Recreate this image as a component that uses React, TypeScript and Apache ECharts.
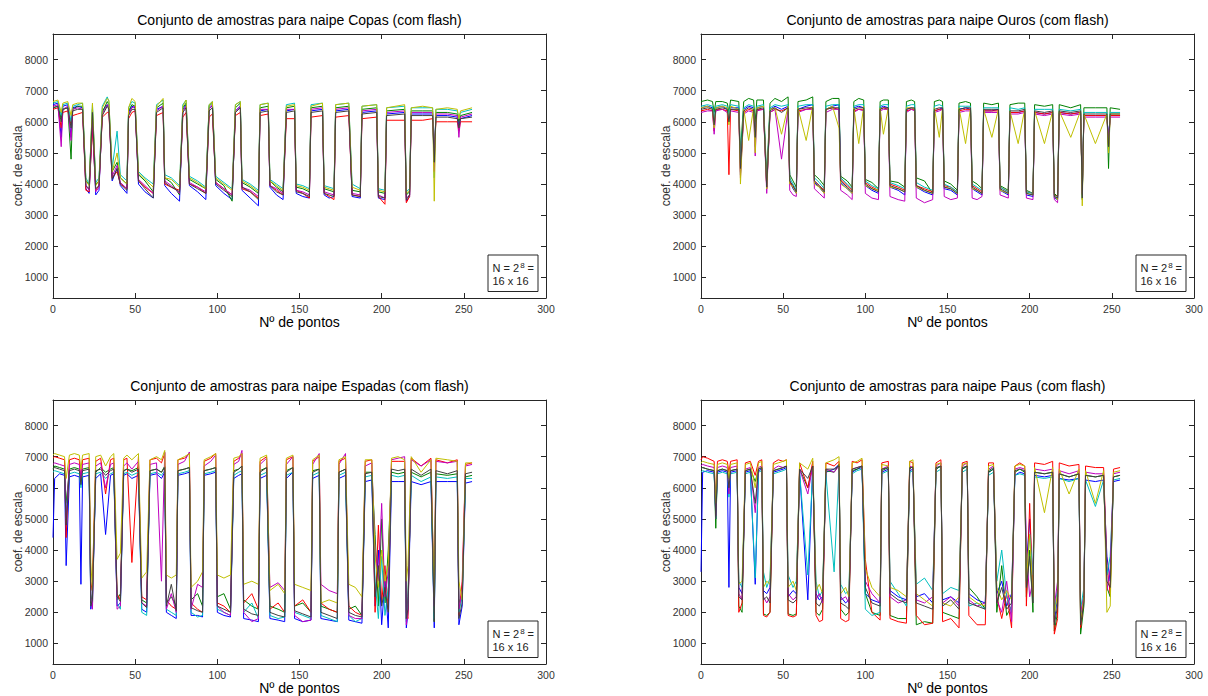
import React, { useEffect, useRef } from "react";
import * as echarts from "echarts";

// MATLAB default colour order: b, g, r, c, m, y, k
const COLORS = ["#0000ff", "#008000", "#ff0000", "#00bfbf", "#bf00bf", "#bfbf00", "#404040"];

const TITLES = [
  "Conjunto de amostras para naipe Copas (com flash)",
  "Conjunto de amostras para naipe Ouros (com flash)",
  "Conjunto de amostras para naipe Espadas (com flash)",
  "Conjunto de amostras para naipe Paus (com flash)",
];
const X_NAME = "Nº de pontos";
const Y_NAME = "coef. de escala";
const Y_TICKS = [1000, 2000, 3000, 4000, 5000, 6000, 7000, 8000];
const X_TICK_STEP = 50;

// ---------------- Copas ----------------
const X_COPAS = [0,3,5,6,9,11,12,15,18,20,22,24,26,28,30,33,34,36,39,41,45,46,48,50,52,56,61,63,67,68,72,77,79,81,83,88,93,95,97,99,104,109,111,114,115,120,125,126,131,132,136,140,142,147,148,152,156,157,164,165,168,171,172,180,182,187,188,197,198,202,203,214,215,217,218,225,231,232,233,240,246,247,248,255];
const COPAS_B = [6550,6600,5500,6500,6550,5500,6450,6500,6450,3850,3700,6000,3650,3800,6350,6550,6450,4100,4500,3950,3700,6300,6500,6450,4000,3750,3550,6400,6500,3950,3700,3450,6400,6550,3950,3750,3500,6450,6500,3950,3700,3500,6350,6500,3800,3550,3300,6350,6400,3900,3650,3500,6350,6400,3700,3600,3550,6350,6400,3650,3550,3600,6350,6400,3600,3550,6300,6350,3550,3500,6250,6300,3450,3600,6250,6250,6250,4800,6200,6200,6150,5900,6100,6200];
const COPAS_G = [6450,6500,6100,6400,6450,4800,6400,6500,6500,4100,4000,6400,4000,4100,6300,6650,6550,4400,4700,4200,4000,6350,6550,6500,4300,4100,3750,6450,6600,4200,4050,3650,6450,6600,4150,4000,3850,6500,6600,4150,3950,3450,6450,6600,4050,3900,3700,6450,6500,4100,3900,3750,6450,6500,3900,3850,3750,6450,6500,3850,3800,3750,6450,6500,3800,3750,6400,6450,3750,3700,6350,6400,3650,3750,6350,6350,6350,4600,6300,6300,6250,6000,6200,6300];
const COPAS_R = [6400,6450,5800,6300,6350,5900,6200,6250,6300,3800,3750,5800,3800,3950,6150,6300,6300,4200,4400,4000,3850,6100,6300,6350,4100,3900,3700,6200,6300,4000,3900,3800,6150,6300,4000,3900,3700,6150,6250,4050,3850,3650,6200,6300,3850,3750,3550,6200,6250,3950,3800,3650,6100,6100,3800,3700,3550,6150,6200,3700,3600,3500,6150,6200,3650,3600,6100,6150,3600,3350,6050,6050,3400,3600,6050,6050,6100,5000,6000,6000,6000,5700,6000,6000];
const COPAS_C = [6600,6650,6200,6550,6600,6000,6500,6550,6600,4200,4000,6550,4050,4200,6500,6800,6650,4500,5700,4300,4100,6450,6650,6600,4400,4200,4000,6550,6700,4300,4200,3950,6550,6700,4250,4100,3900,6550,6650,4250,4050,3850,6550,6650,4150,4000,3800,6550,6600,4150,4000,3850,6550,6600,4000,3950,3850,6550,6600,3950,3900,3850,6550,6600,4000,3850,6500,6550,3850,3800,6450,6500,3750,3850,6450,6450,6450,4200,6400,6400,6350,6100,6300,6400];
const COPAS_M = [6500,6550,5200,6400,6500,5400,6400,6450,6400,3950,3800,6100,3750,3900,6250,6550,6500,4250,4600,4050,3850,6250,6450,6500,4150,3950,3700,6350,6500,4100,3950,3700,6350,6500,4050,3900,3750,6400,6550,4050,3850,3650,6350,6500,3900,3800,3600,6400,6400,3950,3850,3700,6400,6400,3800,3750,3650,6400,6450,3750,3700,3650,6400,6450,3700,3650,6350,6400,3650,3550,6300,6350,3550,3650,6300,6300,6300,4400,6250,6250,6200,5500,6150,6250];
const COPAS_Y = [6650,6700,6300,6600,6650,6200,6550,6600,6600,4100,3950,6600,3950,4100,6450,6750,6700,4400,5000,4200,4000,6450,6750,6650,4350,4150,3900,6500,6750,4200,4150,3900,6500,6700,4200,4050,3850,6550,6650,4200,4000,3800,6550,6650,4100,3950,3750,6550,6600,4100,3950,3800,6500,6550,3950,3900,3800,6500,6600,3900,3850,3800,6550,6600,3900,3800,6500,6550,3800,3750,6450,6550,3700,3800,6450,6500,6450,3450,6400,6450,6400,6100,6350,6450];
const COPAS_K = [6450,6500,6000,6400,6450,5800,6350,6400,6400,3950,3850,6300,3850,3950,6200,6500,6400,4150,4500,4000,3800,6200,6400,6400,4100,3850,3550,6300,6450,4050,3900,3750,6300,6450,4000,3850,3700,6350,6450,4000,3800,3600,6300,6450,3900,3750,3500,6300,6350,3950,3750,3650,6300,6350,3750,3700,3600,6300,6350,3700,3650,3600,6300,6350,3650,3600,6250,6300,3600,3550,6200,6250,3500,3650,6200,6200,6200,4700,6150,6150,6100,5800,6100,6150];

// ---------------- Ouros ----------------
const X_OUROS = [0,4,7,8,9,13,16,17,18,23,24,26,29,32,33,34,38,40,42,45,49,53,54,56,58,59,64,68,69,72,75,76,80,84,85,89,92,93,96,99,100,104,108,109,111,114,115,120,124,125,128,130,131,136,141,142,145,147,148,152,156,157,161,164,165,168,171,172,177,181,182,187,188,193,197,198,202,203,209,214,215,217,218,225,231,232,233,240,247,248,249,255];
const OUROS_B = [6450,6500,6450,6000,6450,6500,6400,6100,6450,6450,4300,6400,6500,6450,5800,6450,6500,3900,6400,6500,6400,6500,4100,3850,3700,6400,6500,6550,4050,3900,3700,6400,6500,6550,4050,3850,3700,6450,6500,6450,3950,3800,3700,6450,6500,6450,3900,3800,3650,6400,6450,6400,3900,3750,3650,6350,6400,6450,3850,3800,3650,6400,6450,6400,3850,3750,3650,6350,6350,6400,3800,3650,6300,6300,6350,3650,3600,6300,6250,6300,3550,3500,6300,6250,6300,3700,6200,6200,6200,5400,6200,6200];
const OUROS_G = [6650,6700,6650,6300,6650,6650,6600,6300,6700,6650,5000,6650,6750,6700,6000,6700,6700,4200,6600,6750,6650,6800,4300,4100,3900,6650,6700,6800,4300,4150,3950,6650,6750,6750,4250,4100,3900,6650,6750,6700,4150,4050,3850,6650,6700,6700,4100,4050,3900,6650,6700,6650,4200,4100,3700,6650,6700,6650,4100,4000,3800,6600,6650,6600,4100,4000,3850,6600,6550,6600,3950,3800,6550,6600,6600,3800,3700,6550,6500,6550,3700,3600,6550,6450,6550,3500,6450,6450,6450,4500,6450,6400];
const OUROS_R = [6350,6400,6350,5700,6400,6400,6350,4300,6400,6350,4400,6300,6400,6350,5600,6400,6400,3850,6300,6400,6350,6450,4050,3900,3800,6350,6400,6450,4100,3950,3800,6400,6450,6400,4150,3950,3800,6350,6400,6400,4050,3900,3800,6400,6450,6400,4000,3900,3800,6350,6400,6400,3950,3850,3750,6350,6400,6400,3950,3900,3750,6350,6400,6400,3950,3850,3750,6350,6350,6350,3900,3750,6300,6300,6350,3750,3700,6300,6250,6300,3650,3600,6300,6250,6300,3650,6200,6200,6200,5200,6200,6200];
const OUROS_C = [6500,6550,6500,6100,6500,6550,6500,6200,6550,6500,4700,6450,6550,6500,5200,6500,6550,4000,6450,6550,6500,6550,4200,4000,3800,6500,6550,6550,4200,4050,3850,6500,6550,6550,4200,4000,3850,6500,6550,6550,4100,3950,3850,6500,6550,6550,4050,3950,3850,6500,6550,6550,4050,3900,3800,6500,6550,6500,4000,3900,3750,6500,6500,6500,4000,3900,3800,6450,6450,6450,3900,3750,6450,6400,6450,3750,3700,6400,6400,6400,3650,3550,6400,6350,6400,3600,6300,6300,6300,5300,6300,6300];
const OUROS_M = [6300,6350,6350,5600,6350,6400,6300,6000,6350,6300,4200,6250,6350,6300,4900,6350,6400,3700,6300,6400,4800,6400,3800,3650,3600,6300,6400,6400,3850,3700,3550,6300,6400,6400,3800,3650,3500,6300,6400,6350,3700,3550,3500,6350,6400,6400,3600,3500,3450,6300,6400,6350,3550,3400,3500,6300,6350,6400,3600,3500,3550,6300,6350,6350,3550,3500,3600,6300,6300,6300,3650,3550,6250,6250,6300,3550,3500,6250,6200,6250,3500,3400,6250,6200,6250,3700,6150,6150,6150,5500,6150,6150];
const OUROS_Y = [6450,6500,6400,5800,6450,6500,6450,5900,6500,6400,4000,6400,5400,6450,5000,6450,6500,3850,6400,6450,5600,6500,4000,3900,3700,6450,5400,6500,4000,3900,3700,6400,6500,5800,4000,3850,3700,6450,5300,6500,3950,3850,3800,6450,5600,6450,3900,3850,3750,6450,6450,6400,3900,3800,3700,6450,5500,6450,3900,3850,3700,6450,5300,6450,3850,3800,3700,6400,5500,6400,3800,3700,6350,5300,6400,3700,3650,6350,5300,6350,3600,3500,6350,5500,6350,3300,6250,5300,6250,5000,6250,6250];
const OUROS_K = [6400,6450,6400,5900,6400,6450,6400,6000,6400,6400,4500,6350,6450,6400,5500,6400,6450,3900,6350,6450,6300,6450,4100,3950,3750,6400,6450,6450,4100,3950,3750,6400,6450,6450,4100,3900,3750,6400,6450,6450,4000,3850,3750,6400,6450,6450,3950,3850,3750,6400,6450,6450,3950,3800,3700,6400,6450,6450,3900,3850,3700,6400,6450,6450,3900,3800,3700,6400,6400,6400,3850,3700,6350,6350,6400,3700,3650,6350,6300,6350,3600,3550,6350,6300,6350,3550,6250,6250,6250,5200,6250,6250];

// ---------------- Espadas ----------------
const X_ESPADAS = [0,1,4,7,8,10,13,16,17,18,22,23,24,26,29,32,35,37,39,41,43,45,48,52,54,57,59,63,66,68,69,72,75,76,80,83,84,88,91,92,96,99,100,104,108,110,113,115,116,121,125,126,130,132,137,141,142,146,147,152,157,158,162,163,168,173,174,178,180,184,188,190,194,196,198,200,202,204,206,210,214,215,216,218,224,230,232,233,240,246,247,249,251,255];
const ESPADAS_B = [4400,6300,6450,6400,3500,6350,6400,6350,2900,6350,6400,2100,2500,6300,6450,4500,6400,6450,2200,2300,6400,6450,6300,6400,2100,2000,6400,6450,6300,6500,2000,1900,1800,6400,6450,6500,1900,1900,1850,6400,6450,6500,2000,1900,1850,6300,6400,6450,1800,1750,1700,6300,6400,1800,1750,1700,6300,6500,1800,1700,1750,6300,6400,1800,1750,1700,6300,6400,1750,1700,1650,6200,6250,2200,4000,1600,3000,1500,6200,6200,6200,1500,2000,6200,6100,6200,1500,6200,6200,6200,1600,2200,6150,6200];
const ESPADAS_G = [6600,6700,6650,6600,5500,6600,6650,6600,6400,6600,6650,2300,2600,6500,6650,6500,6600,6650,2400,2600,6550,6600,6550,6650,2400,2300,6550,6600,6500,6700,2300,2500,2200,6550,6600,6650,2400,2600,2200,6550,6600,6650,2500,2600,2100,6550,6600,6700,2400,2200,2100,6550,6650,2200,2100,2000,6550,6650,2200,2300,2000,6550,6600,2200,2100,2000,6500,6600,2100,2200,1900,6500,6500,4500,2200,5000,2300,4000,6500,6450,6500,1800,2500,6500,6350,6500,1700,6450,6400,6450,2300,2600,6350,6400];
const ESPADAS_R = [6950,7000,6950,6900,4400,6900,6950,6900,6200,6900,6950,2700,3000,6850,6950,5800,6900,6950,2600,2400,6900,6950,3600,7000,2500,2400,6900,6950,6800,7100,2400,2200,2100,6900,6950,7100,2300,2100,2000,6850,6950,7100,2300,2200,2000,6850,6950,7100,2300,2600,2100,6850,7000,2100,2300,2000,6900,7000,2200,2400,2000,6850,7000,2300,2100,2000,6850,6950,2200,2000,1900,6850,6900,2000,4800,2300,3500,2100,6850,6850,6850,2000,1800,6950,6700,6950,2000,6900,6800,6900,1900,3000,6750,6800];
const ESPADAS_C = [6500,6550,6500,6450,5200,6450,6500,6450,6000,6450,6500,2400,2200,6450,6500,6300,6450,6500,2300,2100,6450,6500,6400,6500,2000,1900,6450,6500,6400,6550,2100,2000,1900,6450,6500,6550,2000,1850,1900,6450,6500,6550,2100,2000,1900,6400,6500,6550,2000,2300,1800,6400,6500,1900,1800,1850,6400,6500,2000,1900,1800,6400,6500,1900,1800,1700,6400,6500,1900,1700,1800,6350,6400,3000,1800,3800,1900,2800,6400,6350,6400,1700,2300,6400,6200,6350,1800,6350,6300,6350,2000,2500,6300,6300];
const ESPADAS_M = [6750,6800,6750,6700,5000,6750,6800,6750,6300,6750,6800,2500,2100,6700,6800,6000,6750,6800,2100,2200,6700,6800,6600,6850,2300,2200,6750,6800,3000,7150,2100,2600,2000,6750,6850,7150,2100,2900,2800,6700,6850,7050,2200,2000,1900,6750,6850,7200,2000,1700,1800,6750,6950,2800,2950,2700,6750,7000,1900,1700,1750,6750,7100,2900,2700,2600,6750,7100,1900,1800,1800,6700,6800,4000,3000,5500,2500,3300,6900,6950,7000,1600,2100,6900,6700,6900,2200,6850,6800,6850,2100,2700,6700,6750];
const ESPADAS_Y = [7050,7100,7050,7000,6300,7050,7100,7050,6600,7050,7100,3600,2700,7000,7050,6700,7000,7100,3700,3900,6950,7050,6900,7100,3100,3300,6900,7000,6900,7200,3200,3100,3200,6900,7000,7100,2800,3000,3300,6900,7000,7100,3200,3100,3200,6950,7000,7100,2900,3000,2900,6950,7050,2700,2900,2600,6950,7050,2900,2800,2700,6900,7050,2300,2400,2300,6900,7000,2900,2800,2500,6900,6900,3800,2800,4000,3000,3500,6950,7000,6900,3000,3500,7000,6500,6900,2500,6950,6900,6850,3000,2400,6800,6800];
const ESPADAS_K = [6600,6650,6600,6550,4800,6550,6600,6550,6100,6550,6600,2200,2400,6550,6600,6400,6550,6600,2500,2350,6550,6600,6500,6600,2300,2150,6550,6600,6500,6650,2200,2900,2050,6550,6600,6650,2150,2050,2000,6550,6600,6650,2200,2100,2000,6500,6600,6700,2100,1950,1900,6500,6650,2000,1900,1850,6500,6650,2050,1950,1850,6500,6600,2000,1900,1800,6500,6600,2000,1900,1850,6450,6500,2500,3500,2200,2800,2000,6600,6550,6600,1800,2100,6600,6400,6600,1700,6550,6450,6550,1800,2300,6450,6500];

// ---------------- Paus ----------------
const X_PAUS = [0,1,4,8,9,10,13,16,17,18,22,23,25,27,30,33,35,37,38,40,42,44,47,50,52,53,56,58,60,65,68,70,72,74,76,81,84,85,88,90,92,95,98,100,104,109,110,114,115,120,125,127,129,131,136,141,143,146,147,152,157,159,162,163,168,173,175,178,180,183,186,189,191,194,197,198,200,202,203,209,214,215,217,218,224,230,231,233,234,240,245,247,249,251,255];
const PAUS_B = [3300,6500,6550,6500,5200,6500,6550,6500,2800,6500,6550,2800,2600,6500,6550,2900,6550,6600,2700,2600,2800,6500,6550,6600,6650,2500,2700,2600,6500,2400,6700,2600,2400,2500,6500,6600,6750,2500,2300,2400,6500,6600,6650,2600,2400,2300,6500,6600,2700,2500,2400,6550,6600,2500,2600,2300,6600,6700,2400,2500,2300,6600,6700,2600,2400,2300,6500,6600,2600,3000,2200,2600,6400,6500,6450,3500,5000,2800,6400,6350,6400,1700,2500,6300,6250,6300,1800,2600,6250,6200,6250,3800,3000,6200,6250];
const PAUS_G = [6600,6650,6600,6550,4700,6550,6600,6550,6300,6550,6600,2200,2000,6550,6600,6200,6600,6650,1950,1900,2000,6550,6600,6650,6700,1950,1900,1950,6600,6000,6700,2000,1900,2100,6550,6500,6750,2100,1900,2000,6550,6600,6700,2600,2000,1900,6550,6650,1900,1800,1800,6600,6700,1600,1700,1650,6600,6700,2000,1900,1800,6600,6700,2800,2500,2100,6500,6600,2000,3500,1900,2200,6500,6600,6500,2500,4000,2000,6500,6450,6500,1400,2000,6450,6350,6450,1300,2200,6400,6350,6400,2800,2500,6350,6400];
const PAUS_R = [6900,7000,6950,6850,5400,6850,6900,6850,6500,6850,6900,2000,2300,6800,6850,6400,6850,6900,1900,1850,2000,6800,6900,6850,6900,1900,1850,1900,6800,6000,6850,1900,1700,1750,6800,6700,6850,1800,1700,1750,6850,6800,6900,3700,2000,1750,6800,6850,1800,1700,1650,6850,6800,1900,1600,1650,6800,6900,1700,1800,1500,6800,6850,1900,1600,1600,6800,6800,2500,1800,2600,1500,6700,6800,6700,2200,5500,2500,6800,6750,6850,1300,1800,6800,6700,6750,1500,2400,6700,6650,6650,3500,2600,6600,6650];
const PAUS_C = [6500,6550,6500,6450,5000,6450,6500,6450,5700,6450,6500,3000,2800,6450,6500,3100,6500,6550,3300,2800,3100,6450,6500,6550,6600,3200,2800,3000,6500,3200,6600,3000,2500,2700,6450,3300,6650,2900,2600,2700,6450,6550,6600,2100,1900,2000,6450,6550,3000,2600,2200,6500,6550,2900,3100,2700,6500,6600,2600,2800,2700,6500,6600,2200,2300,2100,6400,6500,3000,4000,2500,2000,6400,6450,6400,3000,4500,3200,6350,6300,6350,2000,2800,6300,6200,6300,2100,2800,6250,5400,6250,3200,3800,6250,6300];
const PAUS_M = [6700,6750,6700,6650,5100,6650,6700,6650,5800,6650,6700,2600,2400,6600,6650,5200,6650,6700,2500,2300,2500,6600,6700,6650,6700,2600,2400,2500,6600,5800,6700,2400,2600,2300,6600,6500,6700,2400,2500,2300,6600,6650,6700,3000,2600,2300,6600,6700,2500,2300,2400,6700,6650,2400,2300,2500,6700,6800,2300,2500,2200,6700,6800,2400,2200,2300,6600,6700,2400,2000,3000,1700,6600,6650,6600,4000,2500,3000,6600,6550,6600,2200,3000,6550,6450,6550,2000,2500,6500,6450,6450,2700,3400,6450,6500];
const PAUS_Y = [6800,6850,6800,6750,5500,6750,6800,6750,6300,6750,6800,2900,3000,6750,6800,6000,6800,6850,2800,3000,2900,6750,6800,6850,6900,2800,3000,2700,6800,6600,6950,2700,2900,2600,6800,6900,7000,2600,2800,2500,6800,6850,6950,3400,2800,2500,6750,6700,2800,2700,2500,6850,6900,2600,2400,2200,6750,6800,2300,2200,2500,6750,6800,2500,2300,2200,6700,6750,2800,2400,2700,2400,6700,6750,6700,3000,4500,2500,6650,5200,6650,1900,2600,6600,5800,6600,1700,2500,6550,5500,6550,2000,2200,6500,6550];
const PAUS_K = [6600,6650,6600,6550,5000,6550,6600,6550,6000,6550,6600,2500,2400,6550,6600,5500,6600,6650,2400,2500,2300,6550,6600,6650,6700,2400,2300,2400,6600,6300,6700,2300,2200,2400,6600,6600,6700,2300,2200,2100,6600,6650,6700,2800,2300,2200,6600,6650,2600,2400,2300,6650,6650,2300,2200,2100,6650,6700,2200,2400,2100,6650,6700,2300,2200,2100,6550,6650,2300,2800,2100,2300,6550,6600,6550,2800,3800,2300,6500,6450,6500,1600,2200,6450,6350,6450,1600,2300,6400,6350,6400,3000,2800,6350,6400];

const PANELS = [
  { x: X_COPAS, ys: [COPAS_B, COPAS_G, COPAS_R, COPAS_C, COPAS_M, COPAS_Y, COPAS_K] },
  { x: X_OUROS, ys: [OUROS_B, OUROS_G, OUROS_R, OUROS_C, OUROS_M, OUROS_Y, OUROS_K] },
  { x: X_ESPADAS, ys: [ESPADAS_B, ESPADAS_G, ESPADAS_R, ESPADAS_C, ESPADAS_M, ESPADAS_Y, ESPADAS_K] },
  { x: X_PAUS, ys: [PAUS_B, PAUS_G, PAUS_R, PAUS_C, PAUS_M, PAUS_Y, PAUS_K] },
];

const GRIDS = [
  { left: 53, top: 34, width: 493, height: 264 },
  { left: 701, top: 34, width: 493, height: 264 },
  { left: 53, top: 400, width: 493, height: 264 },
  { left: 701, top: 400, width: 493, height: 264 },
];

const FONT = "'Liberation Sans', Arial, Helvetica, sans-serif";
const AXIS_COLOR = "#262626";
const plain = (v: number) => String(v);

export default function App() {
  const ref = useRef<HTMLDivElement>(null);

  useEffect(() => {
    if (!ref.current) return;
    const chart = echarts.init(ref.current, null, { renderer: "svg" });

    const xAxes: any[] = [];
    const yAxes: any[] = [];
    const series: any[] = [];
    const graphics: any[] = [];

    GRIDS.forEach((g, i) => {
      const lineStyle = { color: AXIS_COLOR, width: 1 };
      const baseX = {
        gridIndex: i,
        type: "value",
        min: 0,
        max: 300,
        interval: X_TICK_STEP,
        axisLine: { show: true, onZero: false, lineStyle },
        axisTick: { show: true, inside: true, length: 5, lineStyle },
        splitLine: { show: false },
      };
      xAxes.push({
        ...baseX,
        position: "bottom",
        axisLabel: { show: true, fontSize: 10.5, color: "#333", margin: 5, fontFamily: FONT, formatter: plain },
      });
      xAxes.push({ ...baseX, position: "top", axisLabel: { show: false } });

      const baseY = {
        gridIndex: i,
        type: "value",
        min: 340,
        max: 8820,
        axisLine: { show: true, onZero: false, lineStyle },
        axisTick: { show: true, inside: true, length: 5, lineStyle, customValues: Y_TICKS },
        splitLine: { show: false },
      };
      yAxes.push({
        ...baseY,
        position: "left",
        axisLabel: {
          show: true,
          fontSize: 10.5,
          color: "#333",
          margin: 5,
          fontFamily: FONT,
          customValues: Y_TICKS,
          formatter: plain,
        },
      });
      yAxes.push({ ...baseY, position: "right", axisLabel: { show: false, customValues: Y_TICKS } });

      const panel = PANELS[i];
      panel.ys.forEach((ys, k) => {
        series.push({
          type: "line",
          xAxisIndex: 2 * i,
          yAxisIndex: 2 * i,
          data: panel.x.map((x, j) => [x, ys[j]]),
          showSymbol: false,
          symbol: "none",
          silent: true,
          lineStyle: { color: COLORS[k], width: 1 },
          itemStyle: { color: COLORS[k] },
        });
      });

      const cx = g.left + g.width / 2;
      const bottom = g.top + g.height;
      graphics.push({
        type: "text",
        x: cx,
        y: g.top - 14,
        style: { text: TITLES[i], fontSize: 14, fontFamily: FONT, fill: "#000", align: "center", verticalAlign: "middle" },
      });
      graphics.push({
        type: "text",
        x: cx,
        y: bottom + 23.5,
        style: { text: X_NAME, fontSize: 14, fontFamily: FONT, fill: "#000", align: "center", verticalAlign: "middle" },
      });
      graphics.push({
        type: "text",
        x: g.left - 35,
        y: g.top + g.height / 2,
        rotation: Math.PI / 2,
        style: { text: Y_NAME, fontSize: 12, fontFamily: FONT, fill: "#333", align: "center", verticalAlign: "middle" },
      });
      // annotation box
      graphics.push({
        type: "rect",
        shape: { x: g.left + 435, y: bottom - 43, width: 50, height: 36.5 },
        style: { fill: "#fff", stroke: AXIS_COLOR, lineWidth: 1 },
        z: 10,
      });
      graphics.push({
        type: "text",
        x: g.left + 439.5,
        y: bottom - 30.5,
        z: 11,
        style: { text: "N = 2", fontSize: 11, fontFamily: FONT, fill: "#222", align: "left", verticalAlign: "middle" },
      });
      graphics.push({
        type: "text",
        x: g.left + 467.3,
        y: bottom - 33,
        z: 11,
        style: { text: "8", fontSize: 8, fontFamily: FONT, fill: "#222", align: "left", verticalAlign: "middle" },
      });
      graphics.push({
        type: "text",
        x: g.left + 471.5,
        y: bottom - 30.5,
        z: 11,
        style: { text: " =", fontSize: 11, fontFamily: FONT, fill: "#222", align: "left", verticalAlign: "middle" },
      });
      graphics.push({
        type: "text",
        x: g.left + 439.5,
        y: bottom - 17.5,
        z: 11,
        style: { text: "16 x 16", fontSize: 11, fontFamily: FONT, fill: "#222", align: "left", verticalAlign: "middle" },
      });
    });

    chart.setOption({
      animation: false,
      backgroundColor: "#ffffff",
      textStyle: { fontFamily: FONT },
      grid: GRIDS.map((g) => ({ ...g, containLabel: false })),
      xAxis: xAxes,
      yAxis: yAxes,
      series,
      graphic: graphics,
    });

    return () => chart.dispose();
  }, []);

  return (
    <div
      ref={ref}
      style={{ position: "absolute", left: 0, top: 0, width: 1208, height: 696, background: "#fff" }}
    />
  );
}
